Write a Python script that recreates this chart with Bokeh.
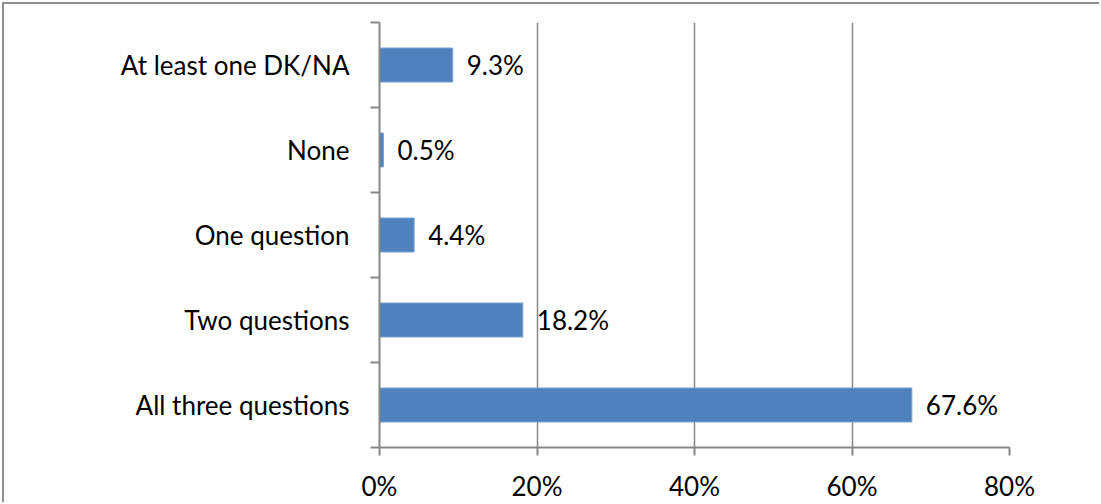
from bokeh.plotting import figure
from bokeh.models import FixedTicker, ColumnDataSource
from bokeh.core.properties import value
from bokeh.embed import file_html
from bokeh.resources import INLINE

# Data (bottom to top)
categories = ["All three questions", "Two questions", "One question", "None", "At least one DK/NA"]
shares = [67.6, 18.2, 4.4, 0.5, 9.3]
x_ticks = [0, 20, 40, 60, 80]
x_tick_labels = ["0%", "20%", "40%", "60%", "80%"]

positions = list(range(1, len(categories) + 1))
src = ColumnDataSource(dict(
    y=positions,
    v=shares,
    lab=["{:.1f}%".format(s) for s in shares],
))

FONT = "Lato"
FS = "26px"
GRAY = "#878787"

p = figure(width=1097, height=500, x_range=(0, 80), y_range=(0.5, len(categories) + 0.5),
           output_backend="svg", toolbar_location=None,
           min_border_left=375, min_border_right=92, min_border_top=18, min_border_bottom=52)
p.styles = {"margin-left": "2px", "margin-top": "2px",
            "border-left": "2px solid #8e8e8e", "border-top": "2px solid #8e8e8e"}
p.outline_line_color = None
p.background_fill_color = "white"
p.border_fill_color = "white"

p.hbar(y="y", right="v", left=0, height=0.4, source=src,
       fill_color="#4F81BD", line_color="#7fa3d3", line_width=1)

p.text(x="v", y="y", text="lab", source=src, x_offset=14,
       text_baseline="middle", text_align="left",
       text_font=value(FONT), text_font_size=FS, text_color="black")

# x axis
xa = p.xaxis[0]
xa.ticker = FixedTicker(ticks=x_ticks)
xa.major_label_overrides = {t: l for t, l in zip(x_ticks, x_tick_labels)}
xa.axis_line_color = GRAY
xa.axis_line_width = 2
xa.major_tick_line_color = GRAY
xa.major_tick_line_width = 2
xa.major_tick_in = 0
xa.major_tick_out = 8
xa.minor_tick_line_color = None
xa.major_label_standoff = 14
xa.major_label_text_font = FONT
xa.major_label_text_font_size = FS
xa.major_label_text_color = "black"

# y axis
ya = p.yaxis[0]
ya.ticker = FixedTicker(ticks=positions, minor_ticks=[pp - 0.5 for pp in positions] + [positions[-1] + 0.5])
ya.major_label_overrides = {pp: c for pp, c in zip(positions, categories)}
ya.axis_line_color = GRAY
ya.axis_line_width = 2
ya.major_tick_line_color = None
ya.major_tick_out = 0
ya.major_tick_in = 0
ya.minor_tick_line_color = GRAY
ya.minor_tick_line_width = 2
ya.minor_tick_out = 9
ya.minor_tick_in = 0
ya.major_label_standoff = 21
ya.major_label_text_font = FONT
ya.major_label_text_font_size = FS
ya.major_label_text_color = "black"

p.xgrid.ticker = FixedTicker(ticks=x_ticks)
p.xgrid.grid_line_color = GRAY
p.xgrid.grid_line_width = 1.5
p.ygrid.grid_line_color = None

open("out.html", "w").write(file_html(p, INLINE))
